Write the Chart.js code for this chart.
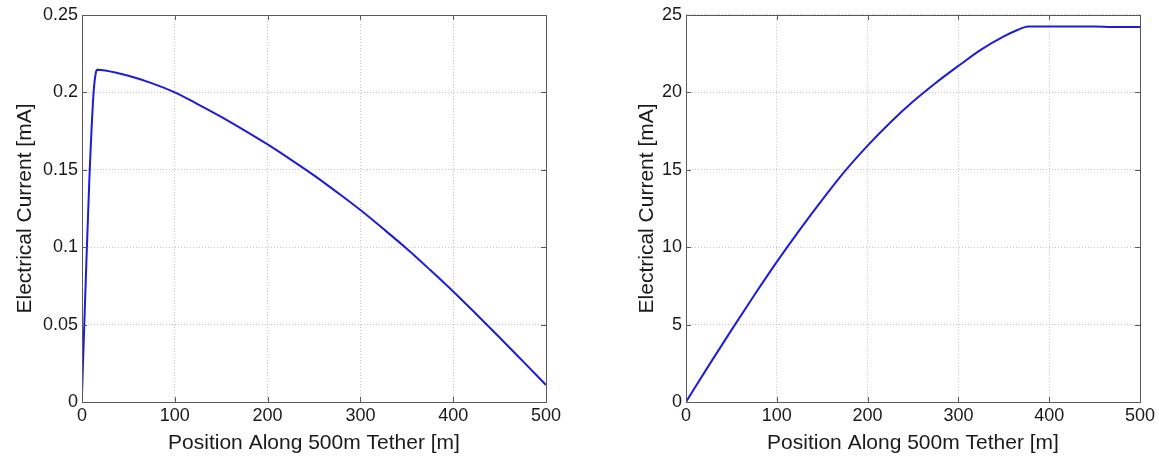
<!DOCTYPE html>
<html>
<head>
<meta charset="utf-8">
<script src="https://cdn.jsdelivr.net/npm/chart.js@4/dist/chart.umd.min.js"></script>
<style>
  body { margin: 0; background: #fff; }
  #wrap { position: relative; width: 1159px; height: 456px; overflow: hidden; }
  .box { position: absolute; top: 0; height: 456px; }
  #left-box { left: 0; width: 575px; }
  #right-box { left: 620px; width: 539px; }
</style>
</head>
<body>
<div id="wrap">
  <div class="box" id="left-box"><canvas id="left-chart"></canvas></div>
  <div class="box" id="right-box"><canvas id="right-chart"></canvas></div>
</div>
<script>
// position along the tether [m]
const posLeft = [0, 4, 8, 12.5, 15, 16.5, 25, 50, 75, 100, 125, 150, 175, 200, 225, 250, 275, 300, 325, 350, 375, 400, 425, 450, 475, 500];
// electrical current [mA], left panel
const currentLeft = [0.005, 0.078, 0.145, 0.2, 0.213, 0.2147, 0.2142, 0.2107, 0.206, 0.2, 0.1923, 0.1842, 0.1755, 0.1664, 0.1566, 0.1464, 0.1354, 0.124, 0.1117, 0.099, 0.0854, 0.0714, 0.0567, 0.0417, 0.0264, 0.011];

const posRight = [0, 25, 50, 75, 100, 125, 150, 175, 200, 225, 250, 275, 300, 325, 350, 365, 377, 400, 450, 470, 500];
// electrical current [mA], right panel
const currentRight = [0, 2.35, 4.64, 6.88, 9.05, 11.1, 13.05, 14.9, 16.55, 18.05, 19.4, 20.6, 21.7, 22.75, 23.6, 24.02, 24.25, 24.25, 24.25, 24.22, 24.22];

const xTicks = [0, 100, 200, 300, 400, 500];
const xTickLabels = ['0', '100', '200', '300', '400', '500'];
const yTicksLeft = [0, 0.05, 0.1, 0.15, 0.2, 0.25];
const yTickLabelsLeft = ['0', '0.05', '0.1', '0.15', '0.2', '0.25'];
const yTicksRight = [0, 5, 10, 15, 20, 25];
const yTickLabelsRight = ['0', '5', '10', '15', '20', '25'];

const xTitle = 'Position Along 500m Tether [m]';
const yTitle = 'Electrical Current [mA]';

const FONT = '"Liberation Sans", Arial, sans-serif';
const INK = '#1a1a1a';

// matlab style box with small inward ticks
const boxPlugin = {
    id: 'box',
    afterDraw(chart) {
        const { ctx, chartArea: a, scales } = chart;
        const l = Math.round(a.left), t = Math.round(a.top);
        const r = Math.round(a.right), b = Math.round(a.bottom);
        ctx.save();
        ctx.fillStyle = '#5a5a5a';
        scales.x.ticks.forEach(tk => {
            const px = Math.round(scales.x.getPixelForValue(tk.value));
            ctx.fillRect(px, b - 5, 1, 5);
            ctx.fillRect(px, t, 1, 5);
        });
        scales.y.ticks.forEach(tk => {
            const py = Math.round(scales.y.getPixelForValue(tk.value));
            ctx.fillRect(l, py, 5, 1);
            ctx.fillRect(r - 5, py, 5, 1);
        });
        ctx.fillRect(l, t, r - l + 1, 1);
        ctx.fillRect(l, b, r - l + 1, 1);
        ctx.fillRect(l, t, 1, b - t + 1);
        ctx.fillRect(r, t, 1, b - t + 1);
        ctx.restore();
    }
};

function makeChart(canvasId, xs, ys, yTicks, yLabels, opts) {
    const ctx = document.getElementById(canvasId).getContext('2d');
    return new Chart(ctx, {
        type: 'line',
        data: {
            datasets: [{
                data: xs.map((x, i) => ({ x: x, y: ys[i] })),
                borderColor: '#1c1cdc',
                borderWidth: 2,
                pointRadius: 0,
                cubicInterpolationMode: 'monotone',
                fill: false
            }]
        },
        options: {
            responsive: true,
            maintainAspectRatio: false,
            animation: false,
            layout: { padding: { top: opts.top, right: opts.right, left: 0, bottom: 0 } },
            plugins: { legend: { display: false }, tooltip: { enabled: false } },
            scales: {
                x: {
                    type: 'linear',
                    min: 0, max: 500,
                    afterBuildTicks: s => { s.ticks = xTicks.map(v => ({ value: v })); },
                    afterFit: s => { s.height = 54; },
                    ticks: {
                        padding: 3,
                        maxRotation: 0,
                        color: INK,
                        font: { family: FONT, size: 18 },
                        callback: v => xTickLabels[xTicks.indexOf(v)]
                    },
                    grid: { color: '#c4c4c4', drawTicks: false },
                    border: { display: false, dash: [1, 2] },
                    title: {
                        display: true, text: xTitle, color: INK,
                        font: { family: FONT, size: 21 },
                        padding: { top: 3, bottom: 0 }
                    }
                },
                y: {
                    type: 'linear',
                    min: yTicks[0], max: yTicks[yTicks.length - 1],
                    afterBuildTicks: s => { s.ticks = yTicks.map(v => ({ value: v })); },
                    afterFit: s => { s.width = opts.yWidth; },
                    ticks: {
                        padding: 4,
                        color: INK,
                        font: { family: FONT, size: 18 },
                        callback: v => yLabels[yTicks.indexOf(v)]
                    },
                    grid: { color: '#c4c4c4', drawTicks: false },
                    border: { display: false, dash: [1, 2] },
                    title: {
                        display: true, text: yTitle, color: INK,
                        font: { family: FONT, size: 21 },
                        padding: { top: opts.titlePad, bottom: 0 }
                    }
                }
            }
        },
        plugins: [boxPlugin]
    });
}

makeChart('left-chart', posLeft, currentLeft, yTicksLeft, yTickLabelsLeft,
    { top: 15, right: 29, yWidth: 82, titlePad: 13 });
makeChart('right-chart', posRight, currentRight, yTicksRight, yTickLabelsRight,
    { top: 12, right: 19, yWidth: 66, titlePad: 15 });
</script>
</body>
</html>
